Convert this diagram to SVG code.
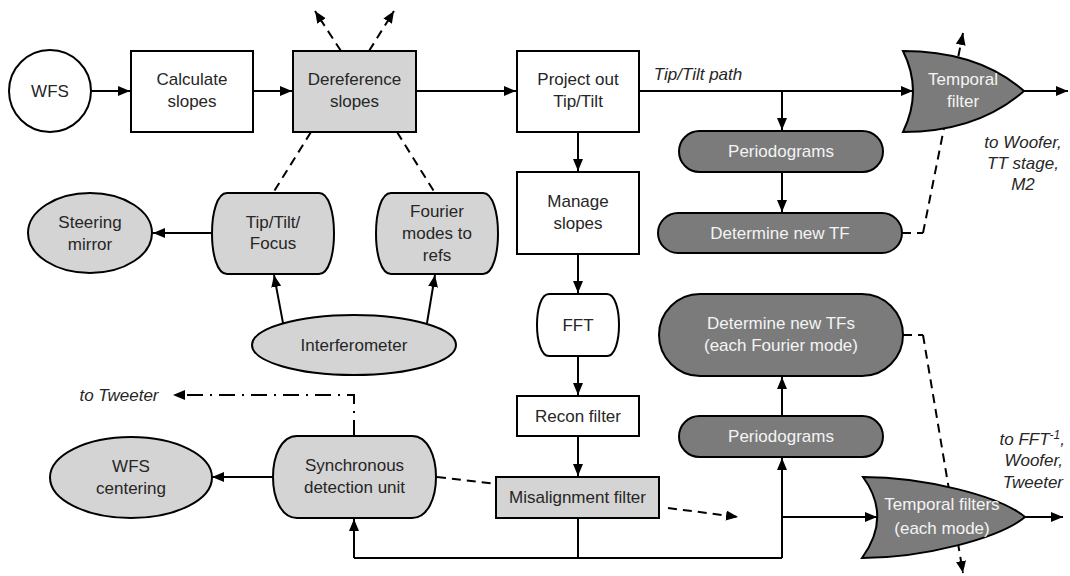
<svg xmlns="http://www.w3.org/2000/svg" width="1070" height="576" viewBox="0 0 1070 576">
<style>
text{font-family:"Liberation Sans",Arial,Helvetica,sans-serif;font-size:17px;fill:#262626;text-anchor:middle}
text.w{fill:#f4f4f4}
text.it{font-style:italic}
.s{stroke:#000;stroke-width:2;}
.white{fill:#fff}
.light{fill:#d4d4d4}
.dark{fill:#7b7b7b}
.ln{fill:none;stroke:#000;stroke-width:2}
.ar{marker-end:url(#ah)}
.da{stroke-dasharray:9 6}
.dd{stroke-dasharray:16 7 2 7}
</style>
<defs>
<marker id="ah" markerUnits="userSpaceOnUse" markerWidth="13" markerHeight="11" refX="12" refY="5" orient="auto" viewBox="0 0 13 11">
<path d="M0,0 L12,5 L0,10 Z" fill="#000"/>
</marker>
</defs>
<rect width="1070" height="576" fill="#fff"/>

<g id="connectors">
<!-- dashed through temporal filters (behind shapes) -->
<path class="ln da ar" d="M923,233 L963,33"/>
<path class="ln da" d="M902,233 H923"/>
<path class="ln da ar" d="M923,335 L963,573"/>
<path class="ln da" d="M903,335 H923"/>
<!-- top row -->
<path class="ln ar" d="M91,91 H130"/>
<path class="ln ar" d="M253,91 H292"/>
<path class="ln ar" d="M416,91 H516"/>
<path class="ln ar" d="M639,91 H913"/>
<path class="ln ar" d="M782,91 V130"/>
<path class="ln ar" d="M782,172 V212"/>
<path class="ln ar" d="M1024,91 H1068"/>
<!-- dereference dashed -->
<path class="ln da ar" d="M341,51 L315,11"/>
<path class="ln da ar" d="M369,51 L394,11"/>
<path class="ln da" d="M311,132 L273,193"/>
<path class="ln da" d="M397,132 L435,193"/>
<!-- centre column -->
<path class="ln ar" d="M578,132 V171"/>
<path class="ln ar" d="M578,254 V293"/>
<path class="ln ar" d="M578,356 V395"/>
<path class="ln ar" d="M578,436 V476"/>
<path class="ln" d="M578,518 V558"/>
<path class="ln" d="M354,558 H782"/>
<path class="ln ar" d="M354,558 V519"/>
<path class="ln ar" d="M782,558 V458"/>
<path class="ln ar" d="M782,517 H877"/>
<path class="ln ar" d="M782,416 V377"/>
<path class="ln ar" d="M1025,517 H1063"/>
<!-- left side -->
<path class="ln ar" d="M212,233 H153"/>
<path class="ln ar" d="M283,323 L274,275"/>
<path class="ln ar" d="M427,323 L435,275"/>
<path class="ln ar" d="M273,477 H212"/>
<path class="ln dd ar" d="M354,436 V395 H173"/>
<path class="ln da" d="M437,477 L496,484"/>
<path class="ln da ar" d="M668,508 L738,517"/>
</g>

<g id="wfs"><circle class="s white" cx="50" cy="91" r="41"/><text x="50" y="97">WFS</text></g>
<g id="calc"><rect class="s white" x="131" y="51" width="122" height="81"/><text x="192" y="85">Calculate</text><text x="192" y="107">slopes</text></g>
<g id="deref"><rect class="s light" x="293" y="51" width="123" height="81"/><text x="354.5" y="85">Dereference</text><text x="354.5" y="107">slopes</text></g>
<g id="project"><rect class="s white" x="517" y="51" width="122" height="81"/><text x="578" y="85">Project out</text><text x="578" y="107">Tip/Tilt</text></g>
<g id="manage"><rect class="s white" x="517" y="172" width="122" height="82"/><text x="578" y="207">Manage</text><text x="578" y="229">slopes</text></g>
<g id="fft"><path class="s white" d="M549,294 H607 C623,294 623,356 607,356 H549 C533,356 533,294 549,294 Z"/><text x="578" y="331">FFT</text></g>
<g id="recon"><rect class="s white" x="517" y="396" width="122" height="40"/><text x="578" y="422">Recon filter</text></g>
<g id="misalign"><rect class="s light" x="496" y="477" width="163" height="41"/><text x="577.5" y="503">Misalignment filter</text></g>

<g id="tiptiltfocus"><path class="s light" d="M227,193 H319 C339,193 339,274 319,274 H227 C207,274 207,193 227,193 Z"/><text x="273" y="228">Tip/Tilt/</text><text x="273" y="249">Focus</text></g>
<g id="fourier"><path class="s light" d="M391,193 H483 C503,193 503,274 483,274 H391 C371,274 371,193 391,193 Z"/><text x="437" y="217">Fourier</text><text x="437" y="239">modes to</text><text x="437" y="261">refs</text></g>
<g id="steering"><ellipse class="s light" cx="90" cy="233" rx="62" ry="40"/><text x="90" y="228">Steering</text><text x="90" y="250">mirror</text></g>
<g id="interferometer"><ellipse class="s light" cx="354" cy="345" rx="102" ry="30"/><text x="354" y="351">Interferometer</text></g>
<g id="sync"><path class="s light" d="M297,436 H412 C444,436 444,518 412,518 H297 C265,518 265,436 297,436 Z"/><text x="354.5" y="471">Synchronous</text><text x="354.5" y="493">detection unit</text></g>
<g id="wfscenter"><ellipse class="s light" cx="131" cy="477.5" rx="81" ry="40.5"/><text x="131" y="472">WFS</text><text x="131" y="494">centering</text></g>

<g id="period1"><rect class="s dark" x="679" y="131" width="204" height="41" rx="20.5"/><text class="w" x="781" y="157">Periodograms</text></g>
<g id="newtf"><rect class="s dark" x="658" y="213" width="244" height="40" rx="20"/><text class="w" x="780" y="239">Determine new TF</text></g>
<g id="newtfs"><rect class="s dark" x="659" y="294" width="244" height="82" rx="41"/><text class="w" x="781" y="329">Determine new TFs</text><text class="w" x="781" y="351">(each Fourier mode)</text></g>
<g id="period2"><rect class="s dark" x="679" y="416" width="204" height="41" rx="20.5"/><text class="w" x="781" y="442">Periodograms</text></g>

<g id="tempfilter"><path class="s dark" d="M903,51 C962,51 1000,70 1024,91 C1000,112 962,132 903,132 Q923,91 903,51 Z"/><text class="w" x="963" y="85">Temporal</text><text class="w" x="963" y="107">filter</text></g>
<g id="tempfilters"><path class="s dark" d="M863,477 C924,477 1000,496 1025,517 C1000,538 924,558 862,558 Q892,517 863,477 Z"/><text class="w" x="942" y="510">Temporal filters</text><text class="w" x="942" y="534">(each mode)</text></g>

<g id="labels">
<text class="it" x="698" y="80">Tip/Tilt path</text>
<text class="it" x="1023" y="148">to Woofer,</text>
<text class="it" x="1023" y="169">TT stage,</text>
<text class="it" x="1023" y="190">M2</text>
<text class="it" x="119" y="401">to Tweeter</text>
<text class="it" x="1065" y="445" style="text-anchor:end">to FFT<tspan dy="-6" font-size="12">-1</tspan><tspan dy="6">,</tspan></text>
<text class="it" x="1063" y="466" style="text-anchor:end">Woofer,</text>
<text class="it" x="1063" y="488" style="text-anchor:end">Tweeter</text>
</g>
</svg>
